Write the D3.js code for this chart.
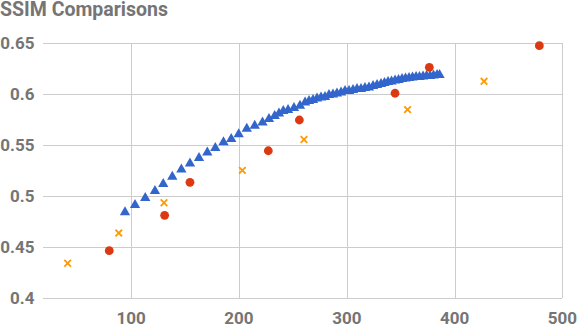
<!DOCTYPE html>
<html>
<head>
<meta charset="utf-8">
<script src="https://cdn.jsdelivr.net/npm/d3@7"></script>
<style>
  body { margin: 0; background: #fff; }
  text { font-family: Roboto, "Noto Sans", sans-serif; font-weight: bold; fill: #757575; }
</style>
</head>
<body>
<div id="chart"></div>
<script>
// blue triangles
const triX = [94.2, 103.5, 113.0, 122.0, 129.7, 138.1, 146.5, 154.5, 162.9, 170.6,
  178.0, 185.6, 192.8, 199.7, 207.2, 214.6, 221.8, 227.8, 233.1, 237.1,
  241.1, 245.5, 251.0, 256.6, 261.3, 265.0, 268.7, 272.4, 276.1, 279.8,
  283.5, 287.2, 290.9, 294.7, 298.4, 302.1, 305.8, 309.5, 313.2, 316.9,
  320.6, 324.4, 328.1, 331.8, 335.0, 338.3, 341.5, 344.8, 348.0, 351.3,
  354.5, 357.8, 361.0, 364.3, 367.5, 370.8, 374.0, 377.3, 380.5, 383.8, 386.1];
const triY = [0.4839, 0.4911, 0.4979, 0.5048, 0.5116, 0.5188, 0.5258, 0.5317, 0.5371, 0.5425,
  0.5469, 0.5526, 0.5557, 0.5604, 0.5657, 0.5686, 0.5719, 0.5753, 0.5782, 0.5807,
  0.5831, 0.5841, 0.5861, 0.5883, 0.5914, 0.5929, 0.5939, 0.5954, 0.5963, 0.5968,
  0.5988, 0.5993, 0.6003, 0.6012, 0.6027, 0.6027, 0.6037, 0.6047, 0.6047, 0.6056,
  0.6061, 0.6076, 0.6086, 0.6096, 0.6105, 0.6115, 0.6120, 0.6130, 0.6135, 0.6145,
  0.6149, 0.6154, 0.6159, 0.6164, 0.6164, 0.6169, 0.6174, 0.6174, 0.6179, 0.6184, 0.6184];

// red circles
const dotX = [79.6, 131.0, 154.5, 227.2, 256.0, 344.8, 376.6, 478.7];
const dotY = [0.4463, 0.4810, 0.5133, 0.5442, 0.5743, 0.6005, 0.6259, 0.6471];

// orange crosses
const crossX = [41.0, 88.4, 130.4, 203.1, 260.3, 356.4, 427.4];
const crossY = [0.4340, 0.4636, 0.4933, 0.5250, 0.5552, 0.5844, 0.6122];

const xTicks = [100, 200, 300, 400, 500];
const yTicks = [0.4, 0.45, 0.5, 0.55, 0.6, 0.65];

const width = 577, height = 324;
const margin = { top: 42.7, right: 14.7, bottom: 26, left: 43.3 };

const svg = d3.select('#chart').append('svg')
  .attr('width', width)
  .attr('height', height);

const x = d3.scaleLinear().domain([18.4, 500]).range([margin.left, width - margin.right]);
const y = d3.scaleLinear().domain([0.4, 0.65]).range([height - margin.bottom, margin.top]);

// title
svg.append('text')
  .attr('x', 0)
  .attr('y', 16)
  .style('font-size', '19.5px')
  .text('SSIM Comparisons');

// gridlines
const grid = svg.append('g').attr('shape-rendering', 'crispEdges');
grid.selectAll('line.h')
  .data(yTicks)
  .join('line')
  .attr('class', 'h')
  .attr('x1', margin.left).attr('x2', width - margin.right)
  .attr('y1', d => Math.round(y(d)) + 0.5).attr('y2', d => Math.round(y(d)) + 0.5)
  .attr('stroke', '#cccccc');
grid.selectAll('line.v')
  .data(xTicks)
  .join('line')
  .attr('class', 'v')
  .attr('x1', d => Math.round(x(d)) + 0.5).attr('x2', d => Math.round(x(d)) + 0.5)
  .attr('y1', margin.top).attr('y2', height - margin.bottom)
  .attr('stroke', '#cccccc');

// axis labels
svg.append('g').selectAll('text')
  .data(yTicks)
  .join('text')
  .attr('x', 34.5)
  .attr('y', d => y(d))
  .attr('dy', '0.35em')
  .attr('text-anchor', 'end')
  .style('font-size', '17px')
  .text(d => d);

svg.append('g').selectAll('text')
  .data(xTicks)
  .join('text')
  .attr('x', d => x(d))
  .attr('y', 324)
  .attr('text-anchor', 'middle')
  .style('font-size', '17px')
  .text(d => d);

// series
const tri = d3.symbol().type(d3.symbolTriangle).size(46);
svg.append('g').selectAll('path')
  .data(d3.zip(triX, triY))
  .join('path')
  .attr('transform', d => `translate(${x(d[0])},${y(d[1])})`)
  .attr('d', tri)
  .attr('fill', '#3366cc');

svg.append('g').selectAll('circle')
  .data(d3.zip(dotX, dotY))
  .join('circle')
  .attr('cx', d => x(d[0]))
  .attr('cy', d => y(d[1]))
  .attr('r', 4.4)
  .attr('fill', '#dc3912');

const cross = d3.symbol().type(d3.symbolX).size(30);
svg.append('g').selectAll('path')
  .data(d3.zip(crossX, crossY))
  .join('path')
  .attr('transform', d => `translate(${x(d[0])},${y(d[1])})`)
  .attr('d', cross)
  .attr('fill', 'none')
  .attr('stroke', '#ff9900')
  .attr('stroke-width', 1.8);
</script>
</body>
</html>
